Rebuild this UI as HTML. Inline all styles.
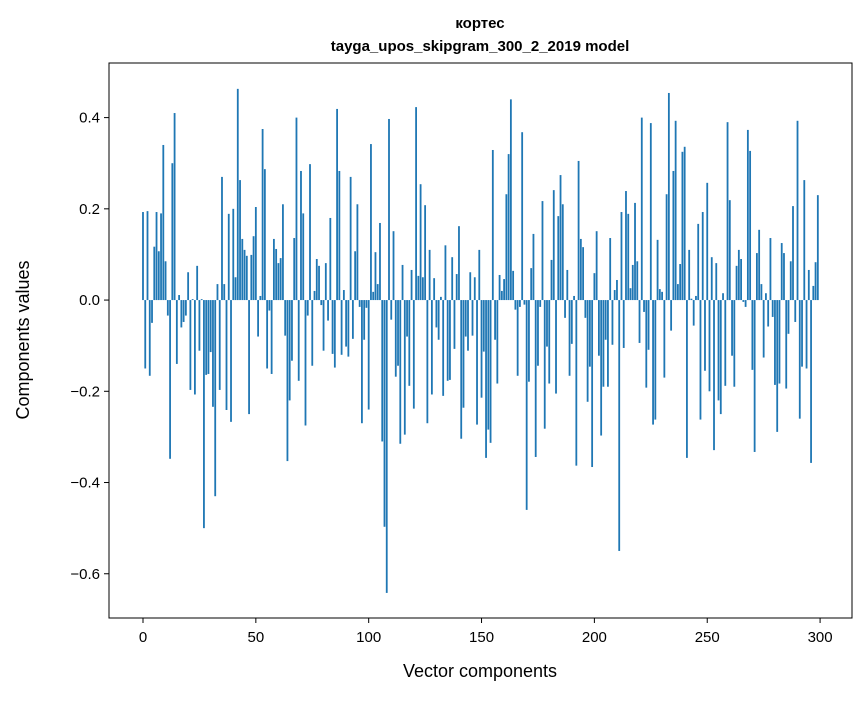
<!DOCTYPE html>
<html><head><meta charset="utf-8"><style>
body{margin:0;background:#fff;}
svg text{font-family:"Liberation Sans","DejaVu Sans",sans-serif;fill:#000;}
</style></head><body>
<svg id="chart" width="867" height="696" xmlns="http://www.w3.org/2000/svg">
<rect width="867" height="696" fill="#fff"/>
<text x="480" y="28" text-anchor="middle" font-size="15" font-weight="bold">кортес</text>
<text x="480" y="51" text-anchor="middle" font-size="15" font-weight="bold">tayga_upos_skipgram_300_2_2019 model</text>
<g id="bars"></g>
<rect x="109" y="63" width="743" height="555" fill="none" stroke="#000" stroke-width="1"/>
<g id="xticks"></g>
<g id="yticks"></g>
<text x="480" y="677" text-anchor="middle" font-size="18">Vector components</text>
<text transform="translate(29,340) rotate(-90)" text-anchor="middle" font-size="18">Components values</text>
</svg>
<script>
const values = [
0.193,-0.15,0.195,-0.166,-0.05,0.117,0.193,0.107,0.19,0.34,
0.085,-0.034,-0.348,0.30,0.41,-0.14,0.011,-0.06,-0.048,-0.034,
0.061,-0.197,0.002,-0.207,0.075,-0.111,0.002,-0.50,-0.164,-0.162,
-0.114,-0.234,-0.43,0.035,-0.197,0.27,0.035,-0.241,0.189,-0.267,
0.20,0.05,0.463,0.263,0.134,0.11,0.097,-0.25,0.099,0.14,
0.204,-0.08,0.009,0.375,0.287,-0.15,-0.023,-0.162,0.134,0.112,
0.081,0.092,0.21,-0.078,-0.353,-0.22,-0.133,0.136,0.40,-0.177,
0.283,0.19,-0.275,-0.034,0.298,-0.144,0.02,0.09,0.075,-0.011,
-0.111,0.081,-0.045,0.18,-0.118,-0.148,0.419,0.283,-0.12,0.022,
-0.102,-0.124,0.27,-0.085,0.107,0.21,-0.015,-0.27,-0.087,-0.017,
-0.24,0.342,0.018,0.105,0.035,0.169,-0.31,-0.497,-0.642,0.397,
-0.043,0.151,-0.168,-0.144,-0.315,0.077,-0.295,-0.08,-0.188,0.066,
-0.238,0.423,0.053,0.254,0.05,0.208,-0.27,0.11,-0.207,0.048,
-0.06,-0.087,0.007,-0.21,0.12,-0.177,-0.175,0.094,-0.107,0.057,
0.162,-0.304,-0.236,-0.08,-0.111,0.061,-0.078,0.05,-0.273,0.11,
-0.214,-0.113,-0.346,-0.284,-0.313,0.329,-0.087,-0.183,0.055,0.02,
0.046,0.232,0.32,0.44,0.064,-0.021,-0.166,-0.015,0.368,-0.01,
-0.46,-0.179,0.07,0.145,-0.344,-0.144,-0.015,0.217,-0.282,-0.102,
-0.183,0.088,0.241,-0.205,0.184,0.274,0.21,-0.039,0.066,-0.166,
-0.096,0.009,-0.363,0.305,0.134,0.116,-0.039,-0.223,-0.146,-0.366,
0.059,0.151,-0.122,-0.297,-0.19,-0.087,-0.19,0.136,-0.098,0.022,
0.044,-0.55,0.193,-0.105,0.239,0.189,0.026,0.077,0.213,0.085,
-0.094,0.40,-0.026,-0.192,-0.109,0.388,-0.273,-0.262,0.132,0.024,
0.018,-0.17,0.232,0.454,-0.067,0.283,0.393,0.035,0.079,0.325,
0.336,-0.346,0.11,0.003,-0.056,0.009,0.167,-0.262,0.193,-0.155,
0.257,-0.2,0.094,-0.329,0.081,-0.22,-0.25,0.015,-0.188,0.39,
0.219,-0.122,-0.19,0.075,0.11,0.09,-0.004,-0.015,0.373,0.327,
-0.153,-0.333,0.103,0.154,0.035,-0.126,0.015,-0.058,0.136,-0.037,
-0.186,-0.289,-0.183,0.125,0.103,-0.194,-0.074,0.085,0.206,-0.048,
0.393,-0.26,-0.146,0.263,-0.15,0.066,-0.357,0.031,0.083,0.23
];
const xTicks = [0,50,100,150,200,250,300];
const yTicks = [0.4,0.2,0.0,-0.2,-0.4,-0.6];
const yTickLabels = ["0.4","0.2","0.0","\u22120.2","\u22120.4","\u22120.6"];

const NS="http://www.w3.org/2000/svg";
const xMin=-15.06,xMax=314.14,yMin=-0.697,yMax=0.5197;
const L=109,R=852,T=63,B=618;
function xs(v){return L+(v-xMin)/(xMax-xMin)*(R-L);}
function ys(v){return B-(v-yMin)/(yMax-yMin)*(B-T);}
const bars=document.getElementById('bars');
const bw=xs(0.8)-xs(0);
values.forEach((v,i)=>{
  const r=document.createElementNS(NS,'rect');
  const y0=ys(0),y1=ys(v);
  r.setAttribute('x',xs(i)-bw/2);
  r.setAttribute('y',Math.min(y0,y1));
  r.setAttribute('width',bw);
  r.setAttribute('height',Math.max(Math.abs(y1-y0),0.3));
  r.setAttribute('fill','#1f77b4');
  
  
  bars.appendChild(r);
});
const xg=document.getElementById('xticks');
xTicks.forEach(t=>{
  const x=xs(t);
  const l=document.createElementNS(NS,'line');
  l.setAttribute('x1',x);l.setAttribute('x2',x);l.setAttribute('y1',B);l.setAttribute('y2',B+5);
  l.setAttribute('stroke','#000');
  
  
  xg.appendChild(l);
  const tx=document.createElementNS(NS,'text');
  tx.setAttribute('x',x);tx.setAttribute('y',B+24);tx.setAttribute('text-anchor','middle');tx.setAttribute('font-size','15');
  tx.textContent=String(t);
  
  
  xg.appendChild(tx);
});
const yg=document.getElementById('yticks');
yTicks.forEach((t,i)=>{
  const y=ys(t);
  const l=document.createElementNS(NS,'line');
  l.setAttribute('x1',L-5);l.setAttribute('x2',L);l.setAttribute('y1',y);l.setAttribute('y2',y);
  l.setAttribute('stroke','#000');
  
  
  yg.appendChild(l);
  const tx=document.createElementNS(NS,'text');
  tx.setAttribute('x',L-9);tx.setAttribute('y',y+5);tx.setAttribute('text-anchor','end');tx.setAttribute('font-size','15');
  tx.textContent=yTickLabels[i];
  
  
  yg.appendChild(tx);
});
</script>
</body></html>
